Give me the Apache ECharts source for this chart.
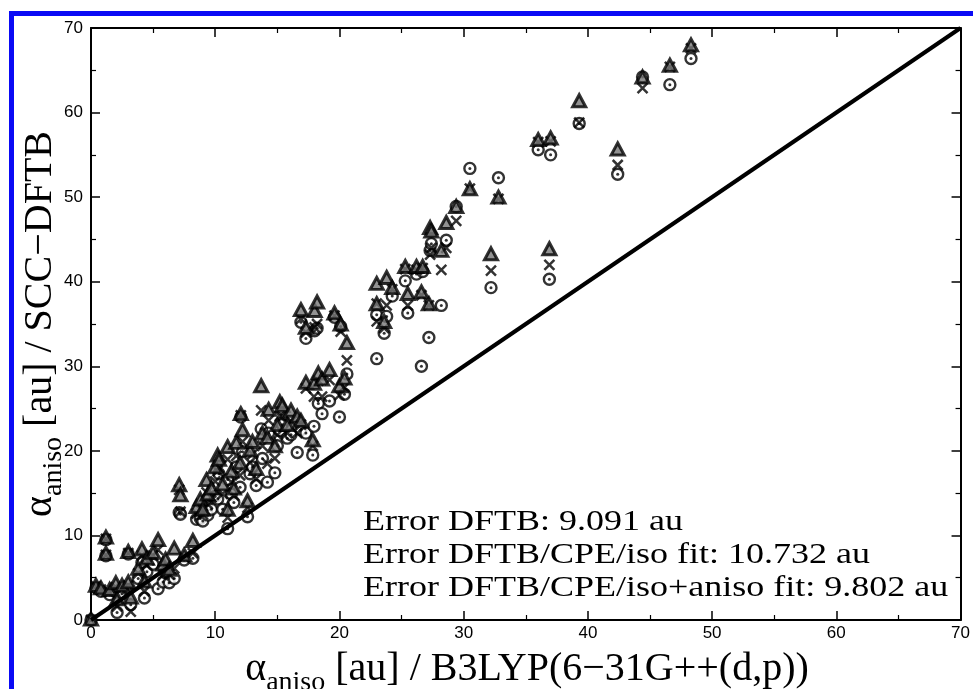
<!DOCTYPE html>
<html><head><meta charset="utf-8">
<script src="https://cdn.jsdelivr.net/npm/echarts@6/dist/echarts.min.js"></script>
<style>html,body{margin:0;padding:0;background:#fff}#c{width:973px;height:689px}</style>
</head><body><div id="c"></div>
<script>
// reference (B3LYP) anisotropic polarizability per molecule
const xRef = [0.0,0.4,0.8,1.2,1.2,1.5,2.0,2.1,2.5,3.0,3.0,3.2,3.8,4.1,4.3,4.5,5.0,5.4,5.8,6.0,6.3,6.7,7.1,7.2,7.5,8.2,8.5,8.8,9.0,9.3,9.4,9.7,10.0,10.2,10.3,10.6,11.0,11.0,11.3,11.5,11.7,12.0,12.06,12.2,12.6,12.8,13.0,13.3,13.7,13.8,14.2,14.3,14.8,15.0,15.2,15.4,15.8,16.1,16.6,16.9,16.9,17.3,17.3,17.85,17.95,18.0,18.2,18.3,18.6,19.2,19.6,20.0,20.1,20.4,20.6,23.0,23.0,23.6,23.8,24.25,25.3,25.5,26.2,26.6,26.7,27.2,27.3,27.4,28.2,28.6,29.4,30.5,32.2,32.8,36.0,36.9,37.0,39.3,42.4,44.4,46.6,48.3];
// SCC-DFTB values, triangles
const yTriangle = [0.1,4.1,3.8,9.8,7.9,3.6,4.4,2.5,4.1,8.1,4.5,2.7,6.1,8.4,4.6,7.3,8.0,9.5,6.6,7.2,6.0,8.5,16.0,14.8,7.7,9.4,13.4,14.3,13.1,16.6,14.9,15.6,18.1,19.5,19.0,16.1,13.1,20.5,17.6,15.6,21.0,18.6,24.4,22.5,14.1,20.1,21.1,17.9,27.7,22.1,21.6,24.9,20.6,23.1,25.8,25.4,23.1,24.8,24.1,23.6,36.7,28.1,34.6,21.3,28.0,36.6,37.6,29.2,28.5,29.6,36.3,27.7,35.0,28.6,32.8,39.8,37.4,35.3,40.5,39.3,41.8,38.6,41.8,38.8,41.8,37.4,46.4,46.0,43.7,47.0,48.9,51.0,43.3,50.0,56.8,43.9,57.0,61.4,55.7,64.2,65.6,68.0];
// crosses
const yCross = [0.0,4.0,3.6,9.6,7.7,3.3,3.9,1.6,3.7,7.9,4.1,1.0,5.5,7.6,3.4,6.5,7.6,8.3,5.3,6.4,5.4,6.1,15.4,12.8,7.4,7.9,12.6,13.1,12.5,15.1,13.7,14.5,16.4,17.6,18.0,14.9,12.1,19.0,16.3,14.7,19.4,17.1,24.2,21.1,13.3,18.6,19.6,16.7,24.8,20.6,18.5,23.6,19.1,21.9,24.1,24.1,22.1,23.5,22.1,23.1,35.6,27.4,34.0,20.6,26.4,34.6,35.0,28.3,26.4,28.4,36.0,26.6,34.1,27.5,30.7,37.4,35.3,34.5,37.2,39.1,41.5,37.2,41.4,38.4,41.6,37.2,43.2,44.0,41.4,44.0,47.2,51.0,41.3,49.8,56.5,42.0,56.6,58.8,53.8,62.9,65.4,67.6];
// dotted circles
const yCircle = [0.0,3.8,3.4,9.5,7.6,3.0,3.3,0.9,3.1,7.8,3.6,1.8,4.9,6.8,2.6,5.7,6.6,3.7,4.5,5.6,4.4,4.9,12.7,12.5,7.1,7.3,11.9,12.0,11.7,13.6,12.4,13.1,14.6,14.3,17.3,13.1,10.8,16.6,14.9,13.9,18.1,15.7,24.0,19.9,12.2,17.3,18.1,15.9,22.6,19.1,16.3,22.1,17.4,20.6,22.4,23.1,21.5,21.9,19.8,22.5,35.2,22.1,33.3,19.5,22.9,34.2,34.5,25.6,24.4,25.9,35.8,24.0,34.7,26.7,29.1,36.1,30.9,33.9,35.9,38.3,40.1,36.3,40.9,30.0,41.2,33.4,43.7,44.5,37.2,44.9,48.9,53.4,39.3,52.3,55.6,40.3,55.0,58.7,52.7,64.2,63.3,66.4];
const diagonal = [0, 70];
const tickValues = [0,10,20,30,40,50,60,70];
const xTitleParts = [['α','main'],['aniso','sub'],[' [au] / B3LYP(6−31G++(d,p))','main']];
const yTitleParts = [['α','main'],['aniso','sub'],[' [au] / SCC−DFTB','main']];
const annotationLines = ['Error DFTB: 9.091 au','Error DFTB/CPE/iso fit: 10.732 au','Error DFTB/CPE/iso+aniso fit: 9.802 au'];

const SERIF = '"Liberation Serif","Times New Roman",serif';
const SANS = '"Liberation Sans",Arial,sans-serif';
const MAIN = 40, SUB = 28;

const cv = document.createElement('canvas').getContext('2d');
function tw(t, size){ cv.font = size + 'px ' + SERIF; return cv.measureText(t).width; }
function titleWidth(parts){ return parts.reduce((s,[t,k]) => s + tw(t, k === 'main' ? MAIN : SUB), 0); }
function titleChildren(parts){
  let x = 0; const out = [];
  parts.forEach(([t, kind]) => {
    const size = kind === 'main' ? MAIN : SUB;
    out.push({type:'text', x: x, y: kind === 'main' ? 0 : 8,
      style:{text:t, font: size + 'px ' + SERIF, fill:'#000', align:'left', verticalAlign:'bottom'}});
    x += tw(t, size);
  });
  return out;
}

const chart = echarts.init(document.getElementById('c'), null, {renderer:'canvas'});
const xyPairs = ys => xRef.map((x, i) => [x, ys[i]]);
const axisCommon = {
  type:'value', min: tickValues[0], max: tickValues[tickValues.length-1], interval: tickValues[1]-tickValues[0],
  axisLine:{show:true, onZero:false, lineStyle:{color:'#000', width:2}},
  axisTick:{show:true, inside:true, length:9, lineStyle:{color:'#000', width:1.5}},
  minorTick:{show:true, splitNumber:2, length:5, lineStyle:{color:'#000', width:1.2}},
  splitLine:{show:false}
};
const plotL = 91, plotR = 10, plotT = 28, plotB = 69;
const xw = titleWidth(xTitleParts), yw = titleWidth(yTitleParts);
const option = {
  backgroundColor:'#fff',
  animation:false,
  grid:{left:plotL, right:plotR, top:plotT, bottom:plotB},
  xAxis:[
    Object.assign({}, axisCommon, {position:'bottom', axisLabel:{color:'#000', fontFamily:SANS, fontSize:17, margin:5}}),
    Object.assign({}, axisCommon, {position:'top', axisLabel:{show:false}})
  ],
  yAxis:[
    Object.assign({}, axisCommon, {position:'left', axisLabel:{color:'#000', fontFamily:SANS, fontSize:17, margin:8}}),
    Object.assign({}, axisCommon, {position:'right', axisLabel:{show:false}})
  ],
  series:[
    {type:'scatter', name:'iso+aniso', data:xyPairs(yCircle), symbol:'circle', symbolSize:11,
      itemStyle:{color:'#fff', borderColor:'#000', borderWidth:2.4}},
    {type:'scatter', name:'iso+aniso dot', data:xyPairs(yCircle), symbol:'circle', symbolSize:3,
      itemStyle:{color:'#000'}},
    {type:'scatter', name:'iso', data:xyPairs(yCross), symbol:'path://M0,0L10,10M0,10L10,0', symbolSize:10,
      itemStyle:{color:'none', borderColor:'#000', borderWidth:2.5}},
    {type:'scatter', name:'DFTB', data:xyPairs(yTriangle), symbol:'triangle', symbolSize:[13,12],
      itemStyle:{color:'#777', borderColor:'#000', borderWidth:3}},
    {type:'line', data:[[diagonal[0],diagonal[0]],[diagonal[1],diagonal[1]]], symbol:'none', z:10,
      lineStyle:{color:'#000', width:4}}
  ],
  graphic:[
    {type:'rect', shape:{x:9, y:11, width:964, height:5}, style:{fill:'#0a0af5'}},
    {type:'rect', shape:{x:9, y:11, width:5, height:678}, style:{fill:'#0a0af5'}},
    {type:'group', x:(plotL + 973 - plotR)/2 - xw/2, y:689, children:titleChildren(xTitleParts)},
    {type:'group', x:60, y:(plotT + 689 - plotB)/2 + yw/2, rotation:Math.PI/2, children:titleChildren(yTitleParts)},
    {type:'group', x:363, y:0, scaleX:1.2, children: annotationLines.map((t, i) => ({
      type:'text', x:0, y:537 + i*33, style:{text:t, font:'30px ' + SERIF, fill:'#000', align:'left', verticalAlign:'bottom'}}))}
  ]
};
chart.setOption(option);
</script></body></html>
